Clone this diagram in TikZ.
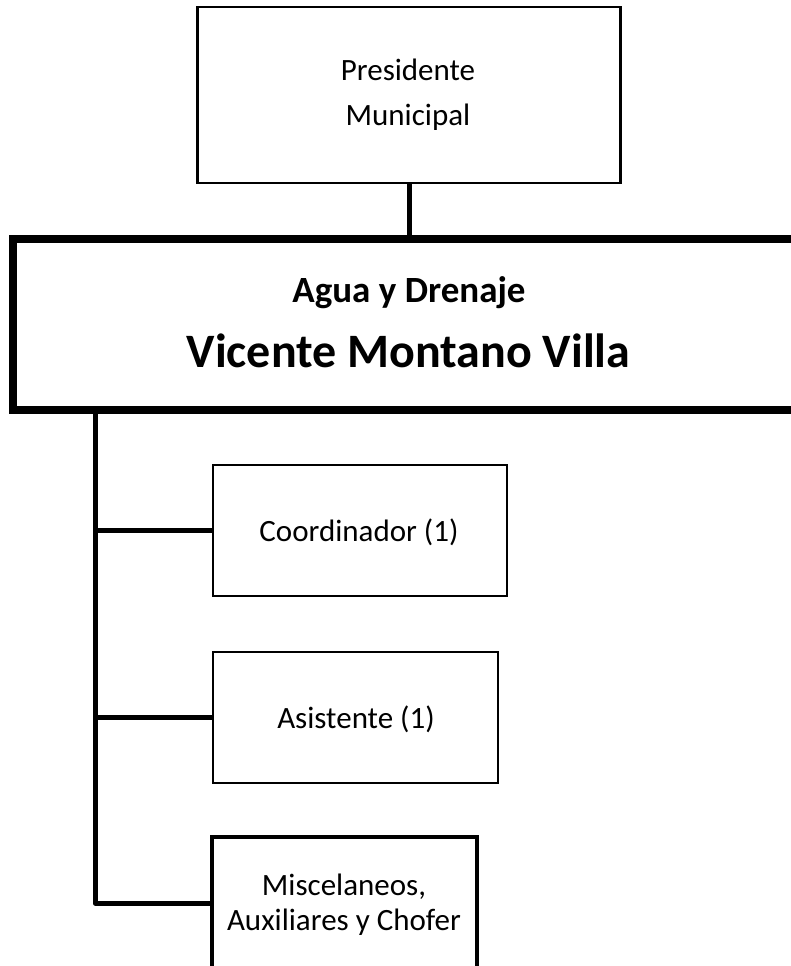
\documentclass[tikz,border=0pt]{standalone}
\usepackage{fontspec}
\setmainfont{Carlito}
\begin{document}
\begin{tikzpicture}[x=1pt,y=-1pt,
  box/.style={draw=black, line width=2.5pt, inner sep=0pt, fill=white},
  bigbox/.style={draw=black, line width=8pt, inner sep=0pt},
  thickbox/.style={draw=black, line width=4.5pt, inner sep=0pt},
  conn/.style={draw=black, line width=5pt},
  reg/.style={anchor=base, inner sep=0pt, font=\fontsize{31}{37}\selectfont},
  bhead/.style={anchor=base, inner sep=0pt, font=\fontsize{37}{44}\selectfont\bfseries},
  bname/.style={anchor=base, inner sep=0pt, font=\fontsize{48}{58}\selectfont\bfseries}]
\clip (0,0) rectangle (791,966);
\fill[white] (0,0) rectangle (791,966);
% boxes
\node[box, minimum width=423pt, minimum height=176pt] (pres) at (409,95) {};
\node[bigbox, minimum width=792pt, minimum height=171pt] (agua) at (409,324.5) {};
\node[box, minimum width=294pt, minimum height=131pt] (coord) at (360,530.5) {};
\node[box, minimum width=285pt, minimum height=131pt] (asis) at (355.5,717.5) {};
\node[thickbox, minimum width=265pt, minimum height=132pt] (misc) at (344.5,903) {};
% texts
\node[reg] (t1) at (408,81) {Presidente};
\node[reg] (t2) at (408,125) {Municipal};
\node[bhead] (t3) at (409,302) {Agua y Drenaje};
\node[bname] (t4) at (408.5,367) {Vicente Montano Villa};
\node[reg] (t5) at (359,541) {Coordinador (1)};
\node[reg] (t6) at (356,728) {Asistente (1)};
\node[reg] (t7) at (344,895) {Miscelaneos,};
\node[reg] (t8) at (344,930) {Auxiliares y Chofer};
% connectors
\coordinate (tx) at (95,0);
\draw[conn] (pres.south) -- (agua.north);
\draw[conn, line join=round] (tx |- agua.south) -- (tx |- misc.west) -- (misc.west);
\draw[conn] (tx |- coord.west) -- (coord.west);
\draw[conn] (tx |- asis.west) -- (asis.west);
\end{tikzpicture}
\end{document}
